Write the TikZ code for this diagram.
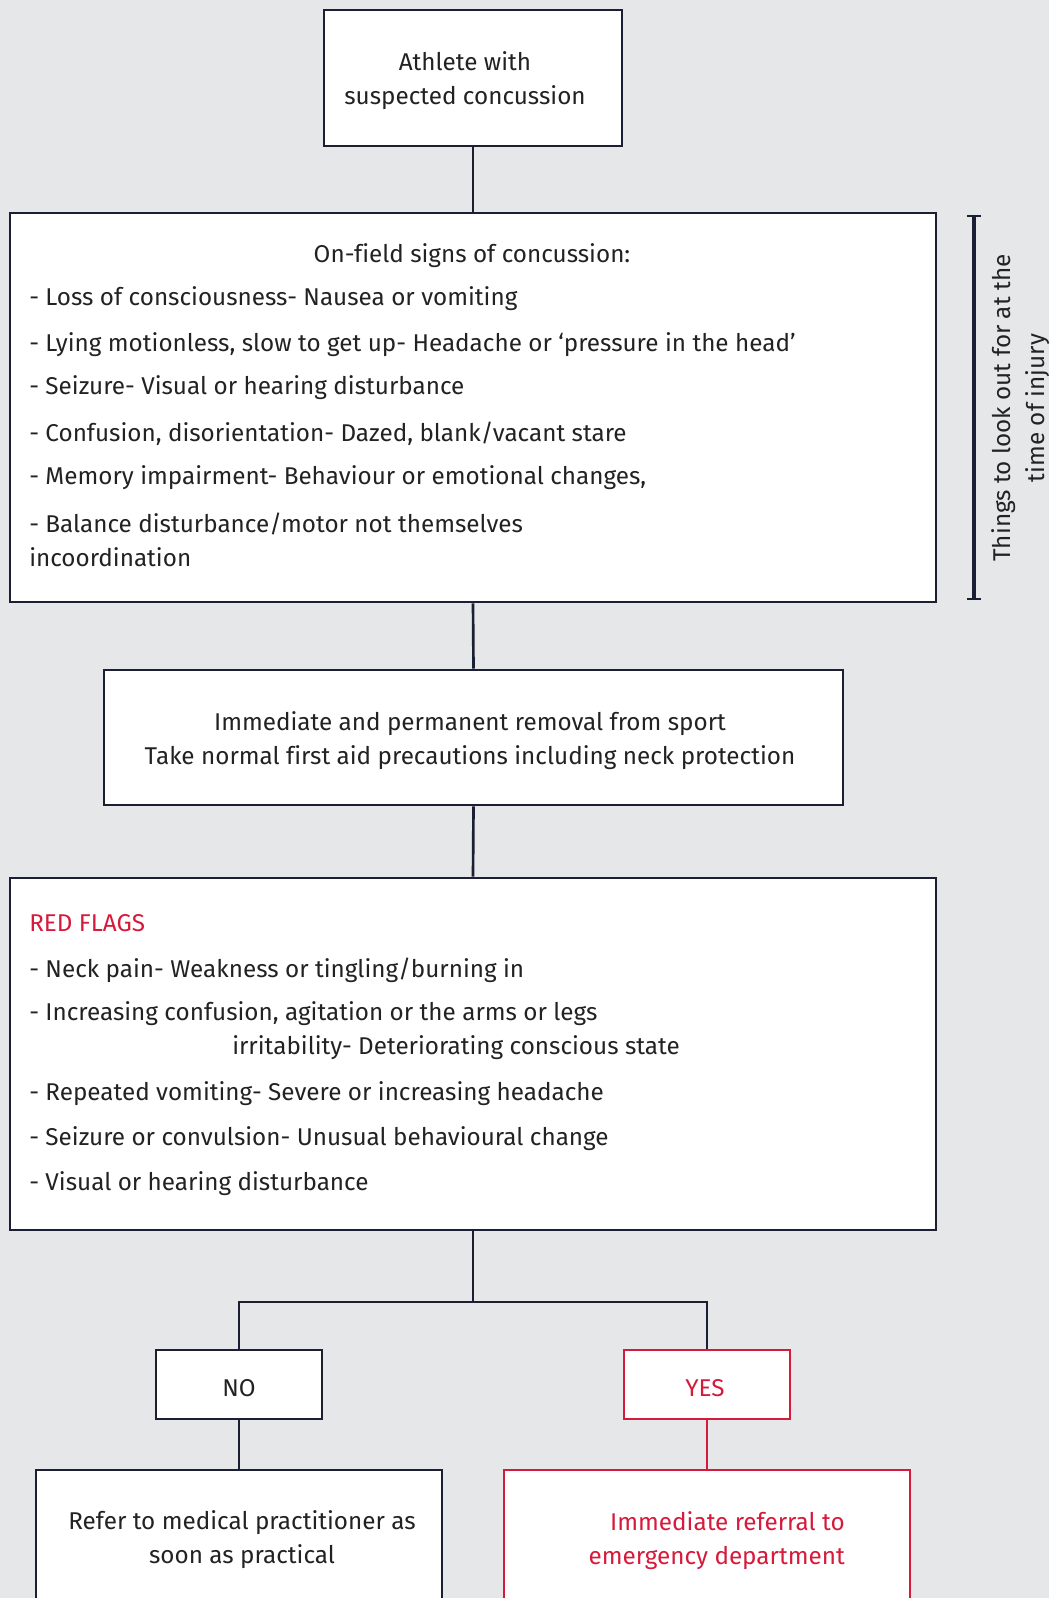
\documentclass[tikz,border=0pt]{standalone}
\usepackage{fontspec}
\setmainfont{Fira Sans}[Ligatures=NoCommon]
\definecolor{bgc}{HTML}{E6E7E8}
\definecolor{navy}{HTML}{1B1F33}
\definecolor{redc}{HTML}{D51A3B}
\definecolor{txt}{HTML}{222222}
\tikzset{
  box/.style={draw=navy, line width=2pt, fill=white, inner sep=0pt},
  redbox/.style={draw=redc, line width=2pt, fill=white, inner sep=0pt},
  conn/.style={draw=navy, line width=2pt},
  redconn/.style={draw=redc, line width=2pt},
  tx/.style={text=txt, inner sep=0pt, font=\fontsize{18.2pt}{25.5pt}\selectfont},
  ltx/.style={tx, anchor=west},
}
\begin{document}
\begin{tikzpicture}[x=0.75pt,y=-0.75pt]
\fill[bgc] (0,0) rectangle (1049,1598);
\useasboundingbox (0,0) rectangle (1049,1598);
\clip (0,0) rectangle (1049,1598);
% boxes
\node[box, minimum width=223.5pt, minimum height=102pt] (top) at (473,78) {};
\node[box, minimum width=694.5pt, minimum height=291.75pt] (signs) at (473,407.5) {};
\node[box, minimum width=554.25pt, minimum height=101.25pt] (removal) at (473.5,737.5) {};
\node[box, minimum width=694.5pt, minimum height=264pt] (flags) at (473,1054) {};
\node[box, minimum width=124.5pt, minimum height=51.75pt] (no) at (239,1384.5) {};
\node[redbox, minimum width=124.5pt, minimum height=51.75pt] (yes) at (707,1384.5) {};
\node[box, minimum width=304.5pt, minimum height=112.5pt] (refer) at (239,1545) {};
\node[redbox, minimum width=304.5pt, minimum height=112.5pt] (emerg) at (707,1545) {};
% connectors
\coordinate (j) at (473,1302);
\coordinate (jl) at (239,1302);
\coordinate (jr) at (707,1302);
\draw[conn] (top.south) -- (signs.north);
\draw[conn] (signs.south) -- (removal.north);
\draw[conn] (removal.south) -- (flags.north);
\draw[conn] (flags.south) -- (j);
\draw[conn] (no.north) -- (jl) -- (jr) -- (yes.north);
\draw[conn] (no.south) -- (refer.north);
\draw[redconn] (yes.south) -- (emerg.north);
% bracket
\coordinate (bt) at (974,216);
\coordinate (bb) at (974,599);
\draw[conn, line width=2.4pt] (bt) -- (bb);
\draw[conn] ([xshift=-5pt]bt) -- ([xshift=5pt]bt);
\draw[conn] ([xshift=-5pt]bb) -- ([xshift=5pt]bb);
\node[tx, rotate=90, align=center] (side) at (1021,408) {Things to look out for at the\\time of injury};
% texts
\node[tx, align=center] (t1) at (465,81) {Athlete with\\suspected concussion};
\node[tx] (s0) at (472,256) {On-field signs of concussion:};
\node[ltx] (s1) at (29,299) {- Loss of consciousness- Nausea or vomiting};
\node[ltx] (s2) at (29,345) {- Lying motionless, slow to get up- Headache or ‘pressure in the head’};
\node[ltx] (s3) at (29,388) {- Seizure- Visual or hearing disturbance};
\node[ltx] (s4) at (29,434) {- Confusion, disorientation- Dazed, blank/vacant stare};
\node[ltx] (s5) at (29,478) {- Memory impairment- Behaviour or emotional changes,};
\node[ltx] (s6) at (29,524) {- Balance disturbance/motor not themselves};
\node[ltx] (s7) at (29,557) {incoordination};
\node[tx, align=center] (r1) at (470,741) {Immediate and permanent removal from sport\\Take normal first aid precautions including neck protection};
\node[ltx, text=redc] (f0) at (29,923) {RED FLAGS};
\node[ltx] (f1) at (29,970) {- Neck pain- Weakness or tingling/burning in};
\node[ltx] (f2) at (29,1014) {- Increasing confusion, agitation or the arms or legs};
\node[ltx] (f3) at (232,1048) {irritability- Deteriorating conscious state};
\node[ltx] (f4) at (29,1094) {- Repeated vomiting- Severe or increasing headache};
\node[ltx] (f5) at (29,1139) {- Seizure or convulsion- Unusual behavioural change};
\node[ltx] (f6) at (29,1184) {- Visual or hearing disturbance};
\node[tx] (tno) at (239,1388) {NO};
\node[tx, text=redc] (tyes) at (705,1388) {YES};
\node[tx, align=center] (tref) at (242,1540) {Refer to medical practitioner as\\soon as practical};
\node[tx, align=right, text=redc, anchor=east] (tem) at (845,1541) {Immediate referral to\\emergency department};
\end{tikzpicture}
\end{document}
